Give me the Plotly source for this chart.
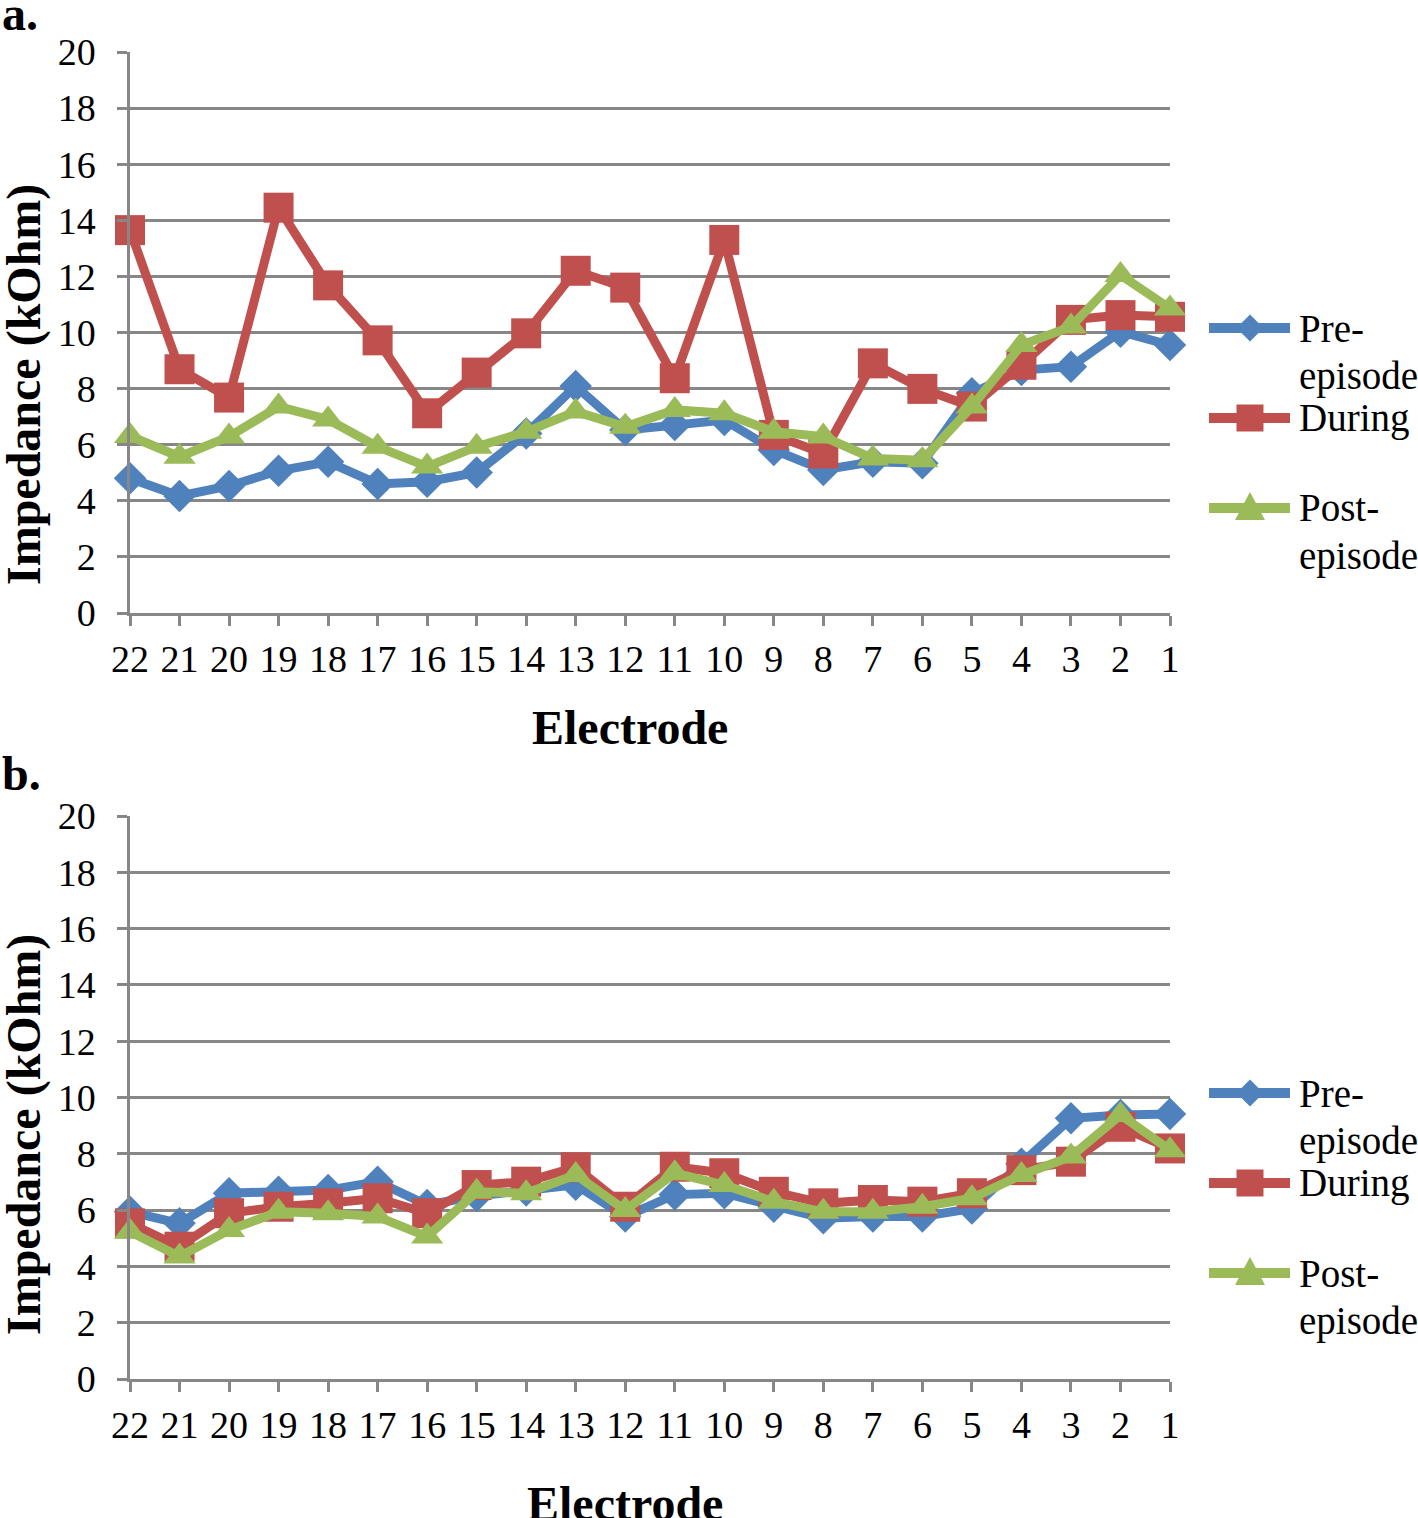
import plotly.graph_objects as go

electrodes = ["22", "21", "20", "19", "18", "17", "16", "15", "14", "13", "12",
              "11", "10", "9", "8", "7", "6", "5", "4", "3", "2", "1"]

a_pre = [4.80, 4.17, 4.53, 5.07, 5.39, 4.60, 4.68, 5.01, 6.40, 8.09, 6.52,
         6.70, 6.88, 5.81, 5.10, 5.39, 5.34, 7.83, 8.66, 8.78, 10.03, 9.55]
a_during = [13.65, 8.69, 7.68, 14.45, 11.68, 9.72, 7.12, 8.57, 9.97, 12.20, 11.60,
            8.37, 13.30, 6.35, 5.69, 8.90, 7.99, 7.36, 8.85, 10.45, 10.62, 10.56]
a_post = [6.31, 5.57, 6.29, 7.36, 6.90, 5.93, 5.22, 5.93, 6.46, 7.18, 6.64,
          7.24, 7.12, 6.46, 6.29, 5.51, 5.45, 7.36, 9.55, 10.21, 12.05, 10.86]

b_pre = [5.94, 5.53, 6.60, 6.65, 6.71, 7.01, 6.18, 6.50, 6.70, 6.90, 5.77,
         6.55, 6.60, 6.12, 5.71, 5.77, 5.77, 6.06, 7.65, 9.26, 9.38, 9.41]
b_during = [5.53, 4.70, 5.89, 6.12, 6.24, 6.42, 5.89, 6.89, 7.01, 7.52, 6.12,
            7.54, 7.31, 6.65, 6.24, 6.36, 6.30, 6.60, 7.42, 7.72, 8.96, 8.19]
b_post = [5.23, 4.35, 5.29, 5.94, 5.89, 5.77, 5.06, 6.65, 6.60, 7.25, 6.00,
          7.31, 6.89, 6.30, 5.94, 5.94, 6.12, 6.42, 7.25, 7.90, 9.38, 8.13]

series_names = ["Pre-episode", "During", "Post-episode"]
legend_lines = [["Pre-", "episode"], ["During"], ["Post-", "episode"]]
colors = ["#4F81BD", "#C0504D", "#9BBB59"]
symbols = ["diamond", "square", "triangle-up"]
sizes = [25, 30, 28]

W, H = 1418, 1518
L, R, T, B = 130, 248, 52, 139
ph = H - T - B
pw = W - L - R
FONT = "Liberation Serif"
GRID = "#878787"


def py(pix):
    return (H - B - pix) / ph


def px(pix):
    return (pix - L) / pw


fig = go.Figure()

panels = [("x", "y", [a_pre, a_during, a_post]),
          ("x2", "y2", [b_pre, b_during, b_post])]
for xa, ya, data in panels:
    for name, vals, c, s, sz in zip(series_names, data, colors, symbols, sizes):
        fig.add_trace(go.Scatter(
            x=electrodes, y=vals, name=name, mode="lines+markers",
            line=dict(color=c, width=9),
            marker=dict(symbol=s, size=sz, color=c, line=dict(width=0)),
            xaxis=xa, yaxis=ya, showlegend=False, cliponaxis=False))

axis_common = dict(showline=True, linecolor=GRID, linewidth=2.5,
                   ticks="outside", ticklen=10, tickwidth=2.5, tickcolor=GRID,
                   tickfont=dict(family=FONT, size=38, color="black"))

fig.update_layout(
    width=W, height=H, margin=dict(l=L, r=R, t=T, b=B),
    paper_bgcolor="white", plot_bgcolor="white",
    font=dict(family=FONT, size=38, color="black"),
    showlegend=False,
    xaxis=dict(domain=[0, 1], anchor="y", range=[0, 21], type="category",
               showgrid=False, zeroline=False, ticklabelstandoff=1, **axis_common),
    xaxis2=dict(domain=[0, 1], anchor="y2", range=[0, 21], type="category",
                showgrid=False, zeroline=False, ticklabelstandoff=1, **axis_common),
    yaxis=dict(domain=[py(613), 1], anchor="x", range=[0, 20], dtick=2,
               showgrid=True, gridcolor=GRID, gridwidth=2.5, zeroline=False,
               ticklabelstandoff=14, **axis_common),
    yaxis2=dict(domain=[0, py(816)], anchor="x2", range=[0, 20], dtick=2,
                showgrid=True, gridcolor=GRID, gridwidth=2.5, zeroline=False,
                ticklabelstandoff=14, **axis_common),
)


def txt(text, x, y, size, xanchor="center", yanchor="middle", angle=0):
    fig.add_annotation(text=text, x=px(x), y=py(y), xref="paper", yref="paper",
                       xanchor=xanchor, yanchor=yanchor, textangle=angle,
                       showarrow=False,
                       font=dict(family=FONT, size=size, color="black"))


# panel labels and axis titles
txt("<b>a.</b>", 0, -15, 48, "left", "top")
txt("<b>b.</b>", 0, 745, 48, "left", "top")
txt("<b>Electrode</b>", 630, 728, 48)
txt("<b>Electrode</b>", 625, 1503, 48)
txt("<b>Impedance (kOhm)</b>", 24, 385, 48, angle=-90)
txt("<b>Impedance (kOhm)</b>", 24, 1135, 48, angle=-90)


# custom legend (glyph + text) for each panel
def glyph_path(sym, cx, cy):
    if sym == "diamond":
        h = 13.5
        pts = [(cx, cy - h), (cx + h, cy), (cx, cy + h), (cx - h, cy)]
    elif sym == "square":
        h = 13.5
        pts = [(cx - h, cy - h), (cx + h, cy - h), (cx + h, cy + h), (cx - h, cy + h)]
    else:
        pts = [(cx, cy - 16), (cx + 15, cy + 12), (cx - 15, cy + 12)]
    return "M " + " L ".join(f"{px(a):.5f},{py(b):.5f}" for a, b in pts) + " Z"


legend_tops = [328, 1093]
item_offsets = [0, 90, 180]
for top in legend_tops:
    for lines, c, s, off in zip(legend_lines, colors, symbols, item_offsets):
        yy = top + off
        fig.add_shape(type="line", xref="paper", yref="paper",
                      x0=px(1209), x1=px(1290), y0=py(yy), y1=py(yy),
                      line=dict(color=c, width=10))
        fig.add_shape(type="path", xref="paper", yref="paper",
                      path=glyph_path(s, 1250, yy), fillcolor=c,
                      line=dict(width=0))
        for k, ln in enumerate(lines):
            txt(ln, 1297, yy + 48 * k, 39, "left", "middle")

fig.write_html("out.html",
               config={"displayModeBar": False},
               post_script="document.body.style.margin='0';document.body.style.overflow='hidden';")
